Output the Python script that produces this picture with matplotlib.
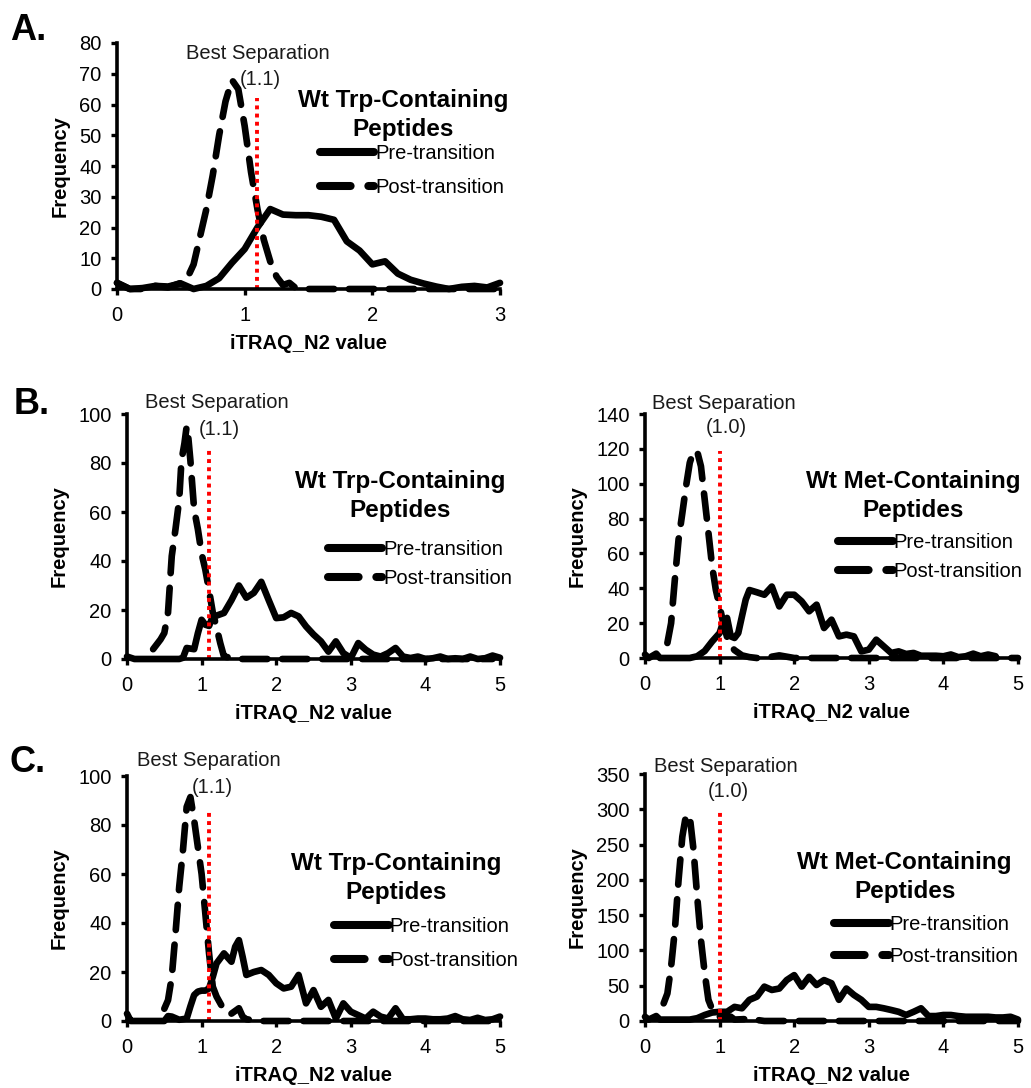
import matplotlib
matplotlib.use("Agg")
import matplotlib.pyplot as plt

plt.rcParams['font.family'] = ['Liberation Sans', 'DejaVu Sans']

# ---- data ----
# Panel A: Wt Trp-containing peptides
a_pre_x = [0, 0.1, 0.2, 0.3, 0.4, 0.5, 0.6, 0.7, 0.8, 0.9, 1.0, 1.1, 1.2, 1.3, 1.4, 1.5,
           1.6, 1.7, 1.8, 1.9, 2.0, 2.1, 2.2, 2.3, 2.4, 2.5, 2.6, 2.7, 2.8, 2.9, 3.0]
a_pre_y = [2, 0, 0.3, 1, 0.8, 1.8, 0, 1, 3.5, 8.5, 13, 20, 26, 24.2, 24, 24,
           23.5, 22.5, 15.5, 12.5, 8, 9, 5, 3, 1.8, 0.8, 0, 0.7, 1, 0.5, 2]
a_post_x = [0, 0.1, 0.2, 0.3, 0.4, 0.5, 0.55, 0.6, 0.65, 0.7, 0.75, 0.8, 0.85, 0.9, 0.95,
            1.0, 1.05, 1.1, 1.15, 1.2, 1.25, 1.3, 1.35, 1.4, 1.5, 1.6, 1.7, 1.8, 1.9,
            2.0, 2.2, 2.4, 2.6, 2.8, 3.0]
a_post_y = [2, 0, 0, 1, 0.5, 2, 3.5, 8, 17, 26, 37, 50, 61, 68, 65,
            53, 38, 26, 16, 9, 4, 1.3, 2, 0.3, 0, 0, 0, 0, 0,
            0, 0, 0, 0, 0, 0]

# Panel B left: Wt Trp-containing peptides
bl_pre_x = [0, 0.1, 0.2, 0.3, 0.4, 0.5, 0.6, 0.7, 0.75, 0.8, 0.9, 0.95, 1.0, 1.05, 1.1, 1.15,
            1.2, 1.3, 1.4, 1.5, 1.6, 1.7, 1.8, 1.9, 2.0, 2.1, 2.2, 2.3, 2.4, 2.5, 2.6,
            2.7, 2.8, 2.9, 3.0, 3.1, 3.2, 3.3, 3.4, 3.5, 3.6, 3.7, 3.8, 3.9, 4.0, 4.1,
            4.2, 4.3, 4.4, 4.5, 4.6, 4.7, 4.8, 4.9, 5.0]
bl_pre_y = [1, 0, 0, 0, 0, 0, 0, 0, 0.5, 4.5, 4, 10.5, 16, 14, 13.5, 17.4,
            17.7, 18.8, 24, 30, 25, 27, 31.5, 24, 16.7, 17, 18.8, 17.4, 13.3, 10, 7.2,
            3, 7.2, 2.4, 0.4, 6.5, 3.8, 1.8, 1, 2.4, 4.5, 1, 0.4, 1, 0, 0.3,
            1, 0, 0.3, 0, 1, 0, 0.3, 1.4, 0.5]
bl_post_x = [0.35, 0.4, 0.45, 0.5, 0.55, 0.6, 0.65, 0.7, 0.73, 0.77, 0.8, 0.82, 0.85, 0.88,
             0.9, 0.95, 1.0, 1.05, 1.1, 1.15, 1.2, 1.25, 1.3, 1.4, 1.5, 1.7, 1.9, 2.1,
             2.3, 2.5, 2.7, 2.9, 3.1, 3.3, 3.5, 3.7, 3.9, 4.1, 4.3, 4.5, 4.7, 4.9]
bl_post_y = [4, 6, 8, 10.6, 19, 42, 53, 65, 81, 88, 95, 91, 81, 69,
             61, 53, 43, 36.5, 28, 19, 13, 6.5, 1, 0.5, 0, 0, 0, 0,
             0, 0, 0, 0, 0, 0, 0, 0, 0, 0, 0, 0, 0, 0]

# Panel B right: Wt Met-containing peptides
br_pre_x = [0, 0.05, 0.15, 0.2, 0.3, 0.4, 0.5, 0.6, 0.7, 0.8, 0.9, 1.0, 1.05, 1.1, 1.15,
            1.2, 1.25, 1.3, 1.35, 1.4, 1.5, 1.6, 1.7, 1.8, 1.9, 2.0, 2.1, 2.2, 2.3,
            2.4, 2.5, 2.6, 2.7, 2.8, 2.9, 3.0, 3.1, 3.2, 3.3, 3.4, 3.5, 3.6, 3.7,
            3.8, 3.9, 4.0, 4.1, 4.2, 4.3, 4.4, 4.5, 4.6, 4.7]
br_pre_y = [2, 0, 2.5, 0, 0, 0, 0, 0, 1, 4, 9.5, 14.3, 21, 23, 12.4,
            11.5, 14.3, 24, 33.5, 39, 37.7, 36.3, 41, 29.6, 36.3, 36.3, 32.5, 26.8, 30.6,
            17.2, 22, 12.4, 13.4, 12.4, 3.8, 4.8, 10.5, 6.7, 2.9, 3.8, 2.3, 2.9, 1.3,
            1.3, 1.3, 1, 2, 0.5, 1, 2.5, 1, 2, 1]
br_post_x = [0.3, 0.35, 0.4, 0.45, 0.5, 0.55, 0.6, 0.65, 0.7, 0.75, 0.8, 0.85, 0.9, 0.95,
             1.0, 1.05, 1.1, 1.15, 1.2, 1.25, 1.3, 1.4, 1.5, 1.6, 1.8, 2.0, 2.2, 2.4,
             2.6, 2.8, 3.0, 3.2, 3.4, 3.6, 3.8, 4.0, 4.2, 4.4, 4.6, 4.8, 5.0]
br_post_y = [8.6, 20, 45, 68, 83, 98.5, 112, 118.5, 118.5, 110, 91, 72, 52.6, 39,
             29.6, 20, 12, 7, 4.5, 3, 1.5, 0.5, 0, 0, 1.5, 0, 0, 0,
             0, 0, 0, 0, 0, 0, 0, 0, 0, 0, 0, 0, 0]

# Panel C left: Wt Trp-containing peptides
cl_pre_x = [0, 0.05, 0.1, 0.2, 0.3, 0.4, 0.5, 0.55, 0.6, 0.7, 0.8, 0.85, 0.9, 0.95, 1.0,
            1.05, 1.1, 1.15, 1.2, 1.3, 1.4, 1.45, 1.5, 1.55, 1.6, 1.7, 1.8, 1.9, 2.0,
            2.1, 2.2, 2.3, 2.4, 2.5, 2.6, 2.7, 2.8, 2.9, 3.0, 3.1, 3.2, 3.3, 3.4, 3.5,
            3.6, 3.7, 3.8, 3.9, 4.0, 4.1, 4.2, 4.3, 4.4, 4.5, 4.6, 4.7, 4.8, 4.9, 5.0]
cl_pre_y = [3, 0, 0, 0, 0, 0, 0, 2, 1.8, 0.5, 1, 6, 10.6, 12, 12.4,
            12.4, 13.3, 18, 23.5, 27.6, 24.2, 30.3, 33, 26.2, 18.8, 20, 20.8, 18.8, 15.4,
            13.3, 14, 18.8, 7.2, 12.6, 5.8, 8.6, 1, 7.2, 3.8, 2.4, 1, 3.8, 1.8, 1,
            5.2, 0.7, 0.7, 1, 1, 0.7, 0.7, 1, 2, 0.7, 0.4, 1.3, 0.4, 0.7, 1.8]
cl_post_x = [0.5, 0.55, 0.6, 0.65, 0.7, 0.75, 0.8, 0.85, 0.9, 0.95, 1.0, 1.05, 1.1, 1.15,
             1.2, 1.3, 1.35, 1.4, 1.5, 1.55, 1.6, 1.8, 2.0, 2.2, 2.4, 2.6, 2.8, 3.0,
             3.2, 3.4, 3.6, 3.8, 4.0, 4.2, 4.4, 4.6, 4.8, 5.0]
cl_post_y = [5, 8.5, 18, 35.7, 54.8, 69.7, 87.4, 91.4, 82, 71, 60, 43.9, 27.6, 14,
             10, 4.5, 3, 3, 5.2, 1.8, 0.7, 0, 0, 0, 0, 0, 0, 0,
             0, 0, 0, 0, 0, 0, 0, 0, 0, 0]

# Panel C right: Wt Met-containing peptides
cr_pre_x = [0, 0.05, 0.15, 0.2, 0.3, 0.4, 0.5, 0.6, 0.7, 0.8, 0.9, 1.0, 1.1, 1.2, 1.3,
            1.4, 1.5, 1.6, 1.7, 1.8, 1.9, 2.0, 2.1, 2.2, 2.3, 2.4, 2.5, 2.6, 2.7,
            2.8, 2.9, 3.0, 3.1, 3.2, 3.3, 3.4, 3.5, 3.6, 3.7, 3.8, 3.9, 4.0, 4.1,
            4.2, 4.3, 4.4, 4.5, 4.6, 4.7, 4.8, 4.9, 5.0]
cr_pre_y = [6, 2, 7, 2, 2, 2, 2, 2, 4, 8.5, 12, 13, 13, 20, 18,
            30, 34.5, 48.7, 44, 46, 58, 65, 48.7, 62.5, 51, 58, 53.5, 30, 46,
            37, 30, 20, 20, 18, 15.6, 13, 8.5, 13, 18, 7, 7, 8.5, 8.5,
            7, 6, 6, 6, 6, 5, 5, 6, 2]
cr_post_x = [0.25, 0.3, 0.35, 0.4, 0.45, 0.5, 0.55, 0.6, 0.65, 0.7, 0.75, 0.8, 0.85, 0.9,
             0.95, 1.0, 1.1, 1.15, 1.2, 1.4, 1.6, 1.8, 2.0, 2.2, 2.4, 2.6, 2.8, 3.0,
             3.2, 3.4, 3.6, 3.8, 4.0, 4.2, 4.4, 4.6, 4.8, 5.0]
cr_post_y = [25, 39, 77, 129, 200, 261, 292, 290, 243, 176, 115, 68, 30, 16.5,
             8.5, 6, 6, 6, 2, 3, 0, 0, 0, 0, 0, 0, 0, 0,
             0, 0, 0, 0, 0, 0, 0, 0, 0, 0]

sep_values = [1.1, 1.1, 1.0, 1.1, 1.0]
titles = ['Wt Trp-Containing\nPeptides', 'Wt Trp-Containing\nPeptides',
          'Wt Met-Containing\nPeptides', 'Wt Trp-Containing\nPeptides',
          'Wt Met-Containing\nPeptides']
y_limits = [80, 100, 140, 100, 350]
y_steps = [10, 20, 20, 20, 50]
x_limits = [3, 5, 5, 5, 5]

W, H = 1031, 1088
fig = plt.figure(figsize=(W / 100, H / 100), dpi=100)


def px_axes(left, top, right, bottom):
    return fig.add_axes([left / W, 1 - bottom / H, (right - left) / W, (bottom - top) / H])


def draw_panel(ax, pre_x, pre_y, post_x, post_y, sep, title, ymax, ystep, xmax,
               sep_top, best_xy, val_xy, title_xy, leg_xy, leg_spacing, ylab_px):
    lw = 4.8
    pre, = ax.plot(pre_x, pre_y, color='black', lw=lw, solid_capstyle='round',
                   solid_joinstyle='round', clip_on=False, label='Pre-transition')
    post, = ax.plot(post_x, post_y, color='black', lw=lw, dashes=(3.8, 2.2),
                    dash_capstyle='round', dash_joinstyle='round', clip_on=False,
                    label='Post-transition')
    ax.plot([sep, sep], [0, sep_top], color='red', lw=2.8, linestyle=(0, (1, 1.1)))

    ax.set_xlim(0, xmax)
    ax.set_ylim(0, ymax)
    ax.set_xticks(range(0, xmax + 1))
    ax.set_yticks(range(0, ymax + 1, ystep))
    for s in ['top', 'right']:
        ax.spines[s].set_visible(False)
    for s in ['left', 'bottom']:
        ax.spines[s].set_linewidth(2.6)
    ax.tick_params(direction='out', length=4, width=2.4, labelsize=14.5, pad=7)
    ax.tick_params(axis='x', pad=8)

    bb = ax.get_position()
    ax.set_xlabel('iTRAQ_N2 value', fontsize=14.5, fontweight='bold')
    ax.set_ylabel('Frequency', fontsize=14.5, fontweight='bold')
    ax.xaxis.set_label_coords(0.5, -45 / (bb.height * H))
    ax.yaxis.set_label_coords(-ylab_px / (bb.width * W), 0.5)

    ax.text(best_xy[0], best_xy[1], 'Best Separation', fontsize=14.5,
            ha='center', va='center', color='#1a1a1a')
    ax.text(val_xy[0], val_xy[1], '(%.1f)' % sep, fontsize=14.5,
            ha='center', va='center', color='#1a1a1a')
    ax.text(title_xy[0], title_xy[1], title, fontsize=17.5, fontweight='bold',
            ha='center', va='center', multialignment='center', linespacing=1.35)

    leg = ax.legend(handles=[pre, post], loc='center left', bbox_to_anchor=leg_xy,
                    bbox_transform=ax.transData, frameon=False, fontsize=14.5,
                    handlelength=2.7, handletextpad=0.05, borderpad=0,
                    borderaxespad=0, labelspacing=leg_spacing)
    for h in leg.get_lines():
        h.set_linewidth(5.8)


axA = px_axes(117, 43, 500, 289)
draw_panel(axA, a_pre_x, a_pre_y, a_post_x, a_post_y, sep_values[0], titles[0],
           y_limits[0], y_steps[0], x_limits[0], 62, (1.1, 76.7), (1.12, 68),
           (2.24, 56.5), (1.59, 38.5), 0.75, 47)

axBL = px_axes(127, 414, 500, 659)
draw_panel(axBL, bl_pre_x, bl_pre_y, bl_post_x, bl_post_y, sep_values[1], titles[1],
           y_limits[1], y_steps[1], x_limits[1], 85.4, (1.2, 104.5), (1.24, 93.6),
           (3.66, 66.4), (2.69, 38.9), 0.5, 58)

axBR = px_axes(645, 414, 1018, 658)
draw_panel(axBR, br_pre_x, br_pre_y, br_post_x, br_post_y, sep_values[2], titles[2],
           y_limits[2], y_steps[2], x_limits[2], 118.5, (1.05, 146), (1.09, 132),
           (3.59, 93), (2.59, 57.9), 0.5, 58)

axCL = px_axes(127, 776, 500, 1021)
draw_panel(axCL, cl_pre_x, cl_pre_y, cl_post_x, cl_post_y, sep_values[3], titles[3],
           y_limits[3], y_steps[3], x_limits[3], 86, (1.1, 106.4), (1.15, 95.5),
           (3.61, 58.5), (2.78, 31.6), 0.75, 58)

axCR = px_axes(645, 774, 1018, 1021)
draw_panel(axCR, cr_pre_x, cr_pre_y, cr_post_x, cr_post_y, sep_values[4], titles[4],
           y_limits[4], y_steps[4], x_limits[4], 300, (1.08, 361), (1.12, 325),
           (3.48, 204), (2.54, 113.8), 0.65, 58)

for lab, (px, py) in zip(['A.', 'B.', 'C.'], [(28, 30), (32, 404), (28, 762)]):
    fig.text(px / W, 1 - py / H, lab, fontsize=26, fontweight='bold',
             ha='center', va='center')

fig.savefig('out.png', dpi=100)
